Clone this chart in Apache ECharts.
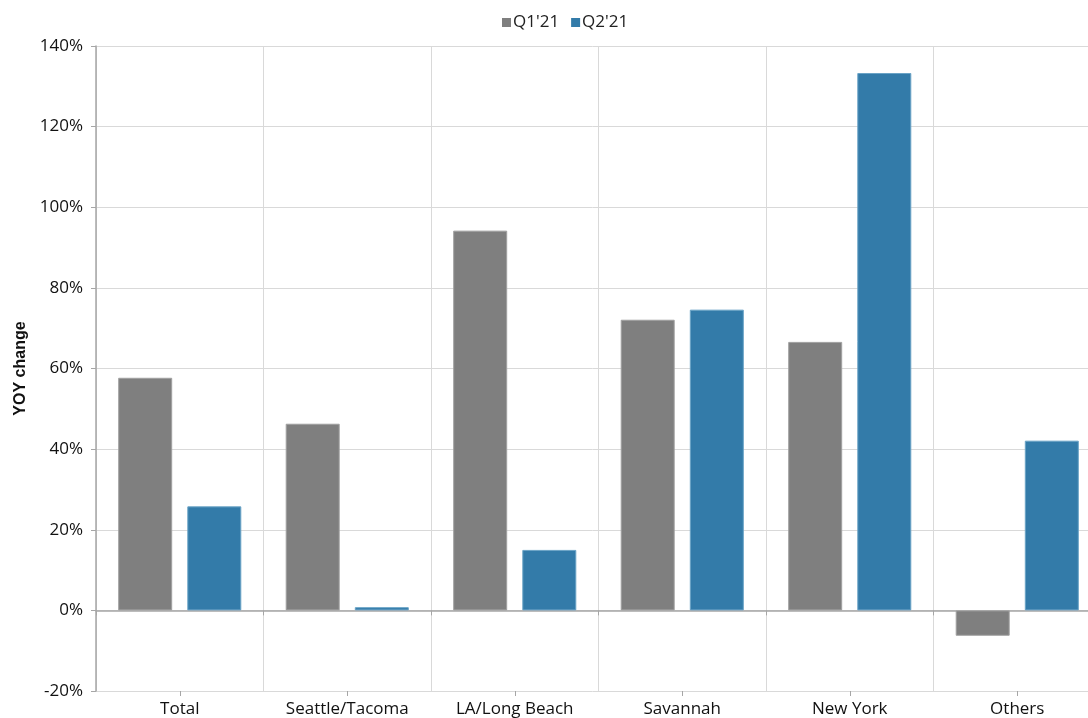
<!DOCTYPE html>
<html>
<head>
<meta charset="utf-8">
<script src="https://cdn.jsdelivr.net/npm/echarts@6/dist/echarts.min.js"></script>
<style>html,body{margin:0;padding:0;background:#fff;overflow:hidden}#c{width:1088px;height:718px}</style>
</head>
<body>
<div id="c"></div>
<script>
const categories = ['Total', 'Seattle/Tacoma', 'LA/Long Beach', 'Savannah', 'New York', 'Others'];
const seriesNames = ["Q1'21", "Q2'21"];
const q1 = [57.7, 46.3, 94.2, 72.1, 66.6, -6.3];
const q2 = [25.8, 0.8, 15.0, 74.6, 133.3, 42.1];
const yTicks = { min: -20, max: 140, interval: 20 };

const font = '"Open Sans", "Noto Sans", sans-serif';
const chart = echarts.init(document.getElementById('c'));
chart.setOption({
  animation: false,
  backgroundColor: '#fff',
  textStyle: { fontFamily: font },
  legend: {
    top: 9, left: 497,
    itemWidth: 9, itemHeight: 9, itemGap: 12,
    textStyle: { fontSize: 17, color: '#222', fontFamily: font, padding: [0, 0, 0, -3] },
    itemStyle: { borderWidth: 0 },
    data: seriesNames.map(n => ({ name: n, icon: 'rect' }))
  },
  grid: { left: 96, top: 46, right: -13, bottom: 27, containLabel: false, outerBoundsMode: 'none' },
  xAxis: [
    {
      type: 'category', data: categories, position: 'bottom',
      axisLine: { show: false, onZero: false },
      axisTick: { show: false },
      axisLabel: { fontSize: 17, color: '#111', margin: 10, fontFamily: font },
      splitLine: { show: true, lineStyle: { color: '#d9d9d9', width: 1 } }
    },
    {
      type: 'category', data: categories, position: 'bottom',
      axisLine: { show: true, onZero: true, lineStyle: { color: '#a6a6a6', width: 1.5 } },
      axisTick: { show: true, length: 5, lineStyle: { color: '#a6a6a6' } },
      axisLabel: { show: false }, splitLine: { show: false }
    },
    {
      type: 'category', data: categories, position: 'bottom',
      axisLine: { show: false, onZero: true },
      axisTick: { show: true, alignWithLabel: true, length: 5, lineStyle: { color: '#a6a6a6' } },
      axisLabel: { show: false }, splitLine: { show: false }
    }
  ],
  yAxis: {
    type: 'value', min: yTicks.min, max: yTicks.max, interval: yTicks.interval,
    name: 'YOY change', nameLocation: 'middle', nameGap: 67, nameRotate: 90,
    nameTextStyle: { fontSize: 16, fontWeight: 'bold', color: '#111', fontFamily: '"Liberation Sans", Arial, sans-serif' },
    axisLine: { show: true, lineStyle: { color: '#a6a6a6', width: 1.5 } },
    axisTick: { show: true, length: 5, lineStyle: { color: '#a6a6a6' } },
    axisLabel: { fontSize: 17, color: '#111', margin: 13, formatter: v => v + '%', fontFamily: font },
    splitLine: { show: true, lineStyle: { color: '#d9d9d9', width: 1 } }
  },
  series: [
    {
      name: seriesNames[0], type: 'bar', data: q1, xAxisIndex: 0,
      barWidth: 54, barGap: '28%',
      itemStyle: { color: '#7f7f7f', borderColor: '#a0a0a0', borderWidth: 1 }
    },
    {
      name: seriesNames[1], type: 'bar', data: q2, xAxisIndex: 0,
      barWidth: 54, barGap: '28%',
      itemStyle: { color: '#337ba9', borderColor: '#6aa3c6', borderWidth: 1 }
    }
  ]
});
</script>
</body>
</html>
